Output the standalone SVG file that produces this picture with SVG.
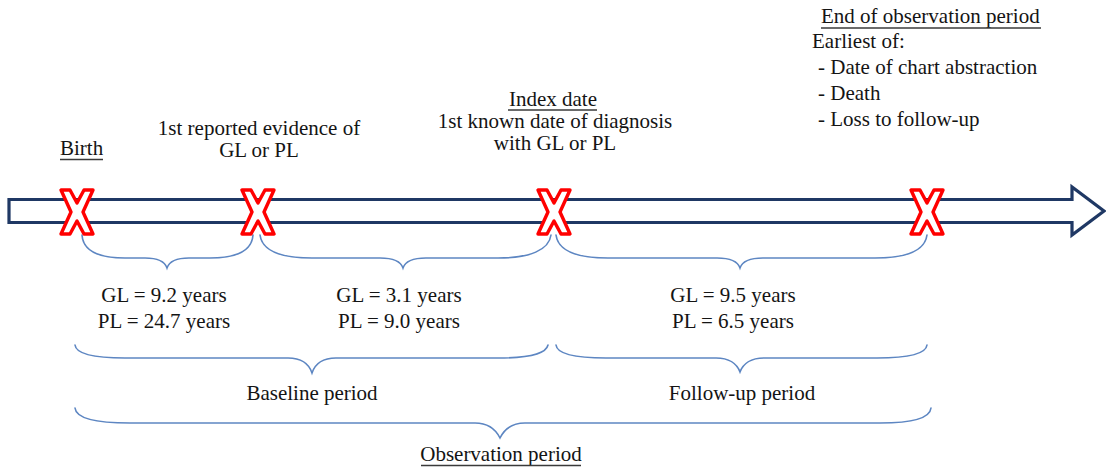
<svg xmlns="http://www.w3.org/2000/svg" width="1106" height="468" viewBox="0 0 1106 468">
<style>
  text { font-family: "Liberation Serif", "Times New Roman", serif; font-size: 21px; fill: #141414; }
  .c { text-anchor: middle; }
  .ul { stroke: #3a3a3a; stroke-width: 1.3; }
  .brace { fill: none; stroke: #5d86c2; stroke-width: 1.6; stroke-linecap: round; }
  .xm { fill: #ffffff; stroke: #ff0000; stroke-width: 3.4; stroke-linejoin: round; }
</style>
<defs>
  <polygon id="xmark" points="-16,-22 -7,-22 0,-9 7,-22 16,-22 6,0 16,22 7,22 0,9 -7,22 -16,22 -6,0"/>
</defs>
<rect width="1106" height="468" fill="#ffffff"/>

<g id="timeline">
  <path d="M9,199.5 H1072 V187 L1104,211 L1072,235 V222.5 H9 Z" fill="#ffffff" stroke="#1f3864" stroke-width="3.2" stroke-linejoin="miter"/>
</g>

<g id="connectors">
  <path class="brace" d="M82,235 C83,250 98,258 125,258 L145,258 C158,258 165,262 167,268 C169,262 176,258 189,258 L210,258 C237,258 252,250 253,235"/>
  <path class="brace" d="M260,235 C262,250 280,258 312,258 L380,258 C393,258 401,262 403,268 C405,262 413,258 426,258 L498,258 C530,258 549,250 551,235"/>
  <path class="brace" d="M556,235 C558,250 576,258 608,258 L717,258 C730,258 738,262 740,268 C742,262 750,258 763,258 L875,258 C907,258 925,250 927,235"/>
  <path class="brace" d="M75,345 C76,354 92,358 125,358 L288,358 C301,358 309,364 312,373 C315,364 323,358 336,358 L498,358 C530,358 546,354 548,345"/>
  <path class="brace" d="M556,345 C557,354 573,358 606,358 L716,358 C729,358 737,364 740,372 C743,364 751,358 764,358 L877,358 C910,358 926,354 927,345"/>
  <path class="brace" d="M75,408 C76,418 95,423 130,423 L475,423 C488,423 496,430 500,438 C504,430 512,423 525,423 L880,423 C914,423 930,418 931,408"/>
</g>

<g id="x-birth"><use href="#xmark" class="xm" x="77" y="212"/></g>
<g id="x-first"><use href="#xmark" class="xm" x="258" y="212"/></g>
<g id="x-index"><use href="#xmark" class="xm" x="554" y="212"/></g>
<g id="x-end"><use href="#xmark" class="xm" x="927" y="212"/></g>

<g id="label-birth">
  <text x="60" y="155">Birth</text>
  <line class="ul" x1="60" y1="159.5" x2="103" y2="159.5"/>
</g>
<g id="label-first">
  <text class="c" x="259" y="135">1st reported evidence of</text>
  <text class="c" x="259" y="157">GL or PL</text>
</g>
<g id="label-index">
  <text class="c" x="553" y="106">Index date</text>
  <line class="ul" x1="508" y1="110" x2="597" y2="110"/>
  <text class="c" x="555" y="128">1st known date of diagnosis</text>
  <text class="c" x="555" y="150">with GL or PL</text>
</g>
<g id="label-end">
  <text x="821" y="23">End of observation period</text>
  <line class="ul" x1="821" y1="28" x2="1041" y2="28"/>
  <text x="812" y="48">Earliest of:</text>
  <text x="818" y="74"> - Date of chart abstraction</text>
  <text x="818" y="100"> - Death</text>
  <text x="818" y="126"> - Loss to follow-up</text>
</g>

<g id="label-seg1">
  <text class="c" x="164" y="302">GL = 9.2 years</text>
  <text class="c" x="164" y="328">PL = 24.7 years</text>
</g>
<g id="label-seg2">
  <text class="c" x="399" y="302">GL = 3.1 years</text>
  <text class="c" x="399" y="328">PL = 9.0 years</text>
</g>
<g id="label-seg3">
  <text class="c" x="733" y="302">GL = 9.5 years</text>
  <text class="c" x="733" y="328">PL = 6.5 years</text>
</g>
<g id="label-baseline">
  <text class="c" x="312" y="400">Baseline period</text>
</g>
<g id="label-followup">
  <text class="c" x="742" y="400">Follow-up period</text>
</g>
<g id="label-observation">
  <text class="c" x="501" y="461">Observation period</text>
  <line class="ul" x1="421" y1="465.5" x2="581" y2="465.5"/>
</g>
</svg>
